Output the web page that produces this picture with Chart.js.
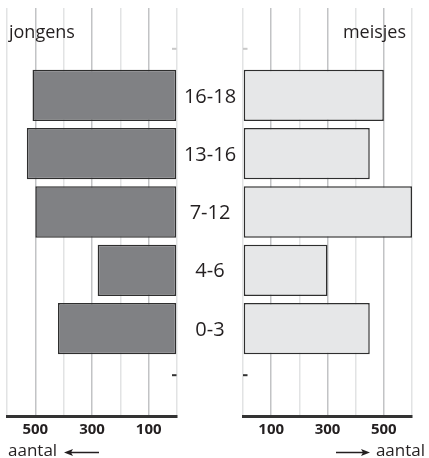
<!DOCTYPE html>
<html>
<head>
<meta charset="utf-8">
<script src="https://cdn.jsdelivr.net/npm/chart.js@4"></script>
<style>
  html, body { margin: 0; padding: 0; background: #ffffff; }
  #wrap { position: relative; width: 429px; height: 458px; }
  #wrap canvas { position: absolute; left: 0; top: 0; }
</style>
</head>
<body>
<div id="wrap">
  <canvas id="cl" width="429" height="458"></canvas>
  <canvas id="cr" width="429" height="458"></canvas>
</div>
<script>
const categories = ['16-18', '13-16', '7-12', '4-6', '0-3'];
const jongens = [510, 530, 500, 280, 420];
const meisjes = [500, 450, 600, 300, 450];
const tickLabels = [500, 300, 100];
const axisMin = 0, axisMax = 600, axisStep = 100;
const titleLeft = 'jongens', titleRight = 'meisjes', unitLabel = 'aantal';

Chart.defaults.font.family = "'Open Sans', sans-serif";
Chart.defaults.color = '#231f20';

// padded category list (empty slot above and below)
const yLabels = [''].concat(categories, ['']);
const pad = arr => [null].concat(arr, [null]);

function arrow(ctx, x1, x2, y) {
  ctx.save();
  ctx.strokeStyle = '#231f20';
  ctx.fillStyle = '#231f20';
  ctx.lineWidth = 1.5;
  const dir = Math.sign(x2 - x1);
  ctx.beginPath();
  ctx.moveTo(x1, y);
  ctx.lineTo(x2 - dir * 6, y);
  ctx.stroke();
  ctx.beginPath();
  ctx.moveTo(x2, y);
  ctx.lineTo(x2 - dir * 9, y - 3.5);
  ctx.lineTo(x2 - dir * 7, y);
  ctx.lineTo(x2 - dir * 9, y + 3.5);
  ctx.closePath();
  ctx.fill();
  ctx.restore();
}

function makeChart(id, side) {
  const left = side === 'left';
  const deco = {
    id: 'deco_' + side,
    afterDraw(chart) {
      const ctx = chart.ctx;
      const a = chart.chartArea;
      const y = chart.scales.y;
      const zeroX = chart.scales.x.getPixelForValue(0);
      ctx.save();
      // small marks near zero line
      const marks = [[0.2, '#c8c8c8'], [yLabels.length - 1.2, '#333333']];
      marks.forEach(([v, c]) => {
        const py = y.getPixelForValue(v);
        ctx.fillStyle = c;
        if (left) ctx.fillRect(zeroX - 5, py - 1, 4.5, 2);
        else ctx.fillRect(zeroX, py - 1, 4.5, 2);
      });
      // titles
      ctx.fillStyle = '#231f20';
      ctx.font = "18px 'Open Sans', sans-serif";
      ctx.textBaseline = 'alphabetic';
      if (left) {
        ctx.textAlign = 'left';
        ctx.fillText(titleLeft, a.left + 2, 38);
      } else {
        ctx.textAlign = 'right';
        ctx.fillText(titleRight, a.right - 6, 38);
      }
      // category labels in the middle (drawn by left chart)
      if (left) {
        ctx.font = "20px 'Open Sans', sans-serif";
        ctx.textAlign = 'center';
        categories.forEach((c, i) => {
          const py = y.getPixelForValue(i + 1);
          ctx.fillText(c, a.right + 33, py + 7.2);
        });
      }
      // unit labels with arrows
      ctx.font = "17px 'Open Sans', sans-serif";
      if (left) {
        ctx.textAlign = 'left';
        ctx.fillText(unitLabel, 8, 456);
        arrow(ctx, 99, 64, 452.5);
      } else {
        ctx.textAlign = 'right';
        ctx.fillText(unitLabel, 425, 456);
        arrow(ctx, 336, 370, 452.5);
      }
      ctx.restore();
    }
  };
  return new Chart(document.getElementById(id), {
    type: 'bar',
    data: {
      labels: yLabels,
      datasets: [{
        data: pad(left ? jongens : meisjes),
        backgroundColor: left ? '#808184' : '#e6e7e8',
        borderColor: '#2e2e2e',
        borderWidth: 1.5,
        borderSkipped: false,
        barPercentage: 0.88,
        categoryPercentage: 1.0
      }]
    },
    options: {
      indexAxis: 'y',
      responsive: false,
      animation: false,
      devicePixelRatio: 1,
      layout: {
        padding: left
          ? { left: 7, right: 252, top: 8, bottom: 14 }
          : { left: 243, right: 17, top: 8, bottom: 14 }
      },
      plugins: { legend: { display: false }, tooltip: { enabled: false }, title: { display: false } },
      scales: {
        x: {
          type: 'linear',
          reverse: left,
          min: axisMin,
          max: axisMax,
          ticks: {
            stepSize: axisStep,
            autoSkip: false,
            maxRotation: 0,
            padding: 5,
            color: '#231f20',
            font: { size: 15, weight: 'bold' },
            callback: v => tickLabels.includes(v) ? String(v) : ''
          },
          grid: {
            drawTicks: false,
            lineWidth: 1.5,
            color: c => (c.tick && tickLabels.includes(c.tick.value)) ? '#c2c3c5' : '#e2e3e4'
          },
          border: { display: true, color: '#333333', width: 3 }
        },
        y: {
          type: 'category',
          display: false,
          offset: true
        }
      }
    },
    plugins: [deco]
  });
}

makeChart('cl', 'left');
makeChart('cr', 'right');
</script>
</body>
</html>
